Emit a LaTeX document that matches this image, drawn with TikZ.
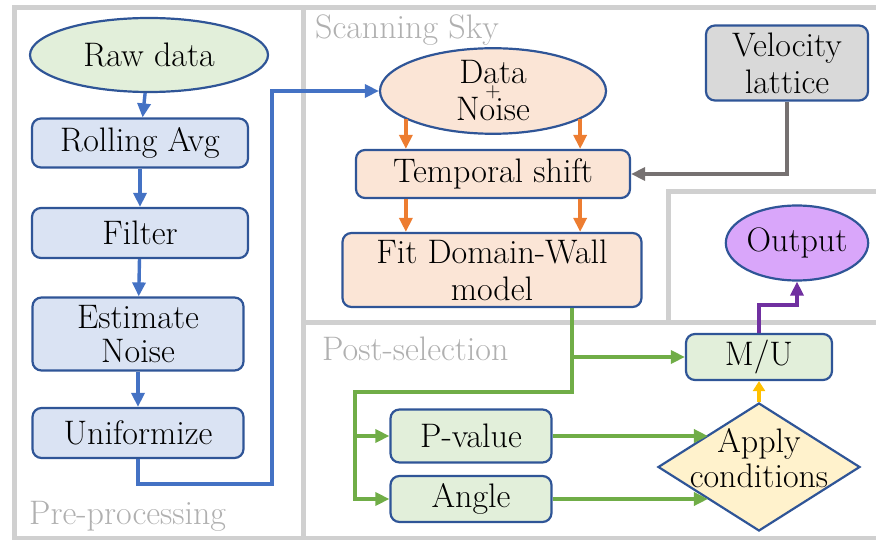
\documentclass[tikz,border=0pt]{standalone}
\usetikzlibrary{shapes.geometric,arrows.meta,positioning}
\definecolor{panelgray}{HTML}{D0D0D0}
\definecolor{titlegray}{HTML}{B0B0B0}
\definecolor{edgeblue}{HTML}{2F5597}
\definecolor{boxblue}{HTML}{DAE3F3}
\definecolor{boxgreen}{HTML}{E2EFDA}
\definecolor{boxorange}{HTML}{FBE5D6}
\definecolor{boxgray}{HTML}{D9D9D9}
\definecolor{boxpurple}{HTML}{D9A6FA}
\definecolor{boxyellow}{HTML}{FFF2CC}
\definecolor{flowblue}{HTML}{4472C4}
\definecolor{floworange}{HTML}{ED7D31}
\definecolor{flowgray}{HTML}{767171}
\definecolor{flowgreen}{HTML}{70AD47}
\definecolor{flowpurple}{HTML}{7030A0}
\definecolor{flowyellow}{HTML}{FFC000}
\newcommand\colorPre{flowblue}
\newcommand\colorScan{floworange}
\newcommand\colorLattice{flowgray}
\newcommand\colorPost{flowgreen}
\newcommand\colorOut{flowpurple}
\newcommand\colorCond{flowyellow}
\newcommand\flowWidth{3.4pt}
\newcommand\panelWidth{5pt}
\tikzset{
	procbox/.style={draw=edgeblue, line width=2.2pt, rounded corners=9pt, align=center, inner sep=0pt},
	procoval/.style={ellipse, draw=edgeblue, line width=2.2pt, align=center, inner sep=0pt},
	flow/.style={line width=\flowWidth, -{Triangle[length=14pt,width=13pt]}},
	paneltitle/.style={text=titlegray, anchor=west, inner sep=0pt},
}

\begin{document}
\begin{tikzpicture}[x=1pt, y=-1pt, font=\fontsize{34}{37}\selectfont]
		\useasboundingbox (0,0) rectangle (876,540);

		% panels
		\draw[panelgray, line width=\panelWidth] (876,8) -- (14,8) -- (14,538) -- (876,538);
		\draw[panelgray, line width=\panelWidth] (303,8) -- (303,538);
		\draw[panelgray, line width=\panelWidth] (303,322) -- (876,322);
		\draw[panelgray, line width=\panelWidth] (668,322) -- (668,192) -- (876,192);
		\node[paneltitle] (pretitle) at (29,516) {Pre-processing};
		\node[paneltitle] (scantitle) at (315,30) {Scanning Sky};
		\node[paneltitle] (posttitle) at (322,349) {Post-selection};

		% pre-processing
		\node[procoval, fill=boxgreen, minimum width=238, minimum height=74] (raw) at (149,55) {Raw data};
		\node[procbox, fill=boxblue, minimum width=216, minimum height=49] (roll) at (140,143) {Rolling Avg};
		\node[procbox, fill=boxblue, minimum width=216, minimum height=50] (filt) at (140,233) {Filter};
		\node[procbox, fill=boxblue, minimum width=211, minimum height=73] (est) at (138,334) {Estimate\\[-3pt]Noise};
		\node[procbox, fill=boxblue, minimum width=211, minimum height=50] (unif) at (138,433) {Uniformize};

		\draw[flow, color=\colorPre] (raw) -- (roll);
		\draw[flow, color=\colorPre] (roll) -- (filt);
		\draw[flow, color=\colorPre] (filt) -- (est);
		\draw[flow, color=\colorPre] (est) -- (unif);

		% scanning sky
		\node[procoval, fill=boxorange, minimum width=226, minimum height=73] (dn) at (493,91)
			{Data\\[-23pt]{\fontsize{21}{21}\selectfont +}\\[-14pt]Noise};
		\node[procbox, fill=boxorange, minimum width=274, minimum height=48] (temp) at (493,174) {Temporal shift};
		\node[procbox, fill=boxorange, minimum width=299, minimum height=74] (fit) at (492,270) {Fit Domain-Wall\\model};
		\node[procbox, fill=boxgray, minimum width=162, minimum height=75] (vel) at (787,63) {Velocity\\lattice};

		\coordinate (prebend) at (272,484);
		\draw[flow, color=\colorPre] (unif.south) |- (prebend) |- (dn.west);

		\draw[flow, color=\colorScan] (dn.-162) -- (dn.-162 |- temp.north);
		\draw[flow, color=\colorScan] (dn.-18) -- (dn.-18 |- temp.north);
		\draw[flow, color=\colorScan] (dn.-162 |- temp.south) -- (dn.-162 |- fit.north);
		\draw[flow, color=\colorScan] (dn.-18 |- temp.south) -- (dn.-18 |- fit.north);
		\draw[flow, color=\colorLattice] (vel.south) |- (temp.east);

		% post-selection
		\node[procoval, fill=boxpurple, minimum width=113, minimum height=75] (out) at (797,243) {Output};
		\node[procbox, fill=boxgreen, minimum width=146, minimum height=46] (mu) at (759,357) {M/U};
		\node[diamond, draw=edgeblue, line width=2.2pt, fill=boxyellow, inner sep=0pt,
			minimum width=202, minimum height=128] (apply) at (759,467) {};
		\node[align=center, inner sep=0pt] (applytext) at (759,458) {Apply\\[-2pt]conditions};
		\node[procbox, fill=boxgreen, minimum width=161, minimum height=53] (pv) at (471,436) {P-value};
		\node[procbox, fill=boxgreen, minimum width=161, minimum height=46] (ang) at (471,499) {Angle};

		\coordinate (postsplit) at (355,392);
		\draw[flow, color=\colorPost] ([xshift=80pt]fit.south) |- (postsplit) |- (ang.west);
		\draw[flow, color=\colorPost] ([xshift=80pt]fit.south) |- (mu.west);
		\draw[flow, color=\colorPost] (postsplit) |- (pv.west);
		\draw[flow, color=\colorPost] (pv.east) -- (pv.east -| apply.north west);
		\draw[flow, color=\colorPost] (ang.east) -- (ang.east -| apply.south west);
		\draw[flow, color=\colorCond, -{Triangle[length=10pt,width=12pt]}] (apply.north) -- (mu.south);
		\draw[flow, color=\colorOut] (mu.north) -- ++(0,-28) -| (out.south);
	\end{tikzpicture}
\end{document}
